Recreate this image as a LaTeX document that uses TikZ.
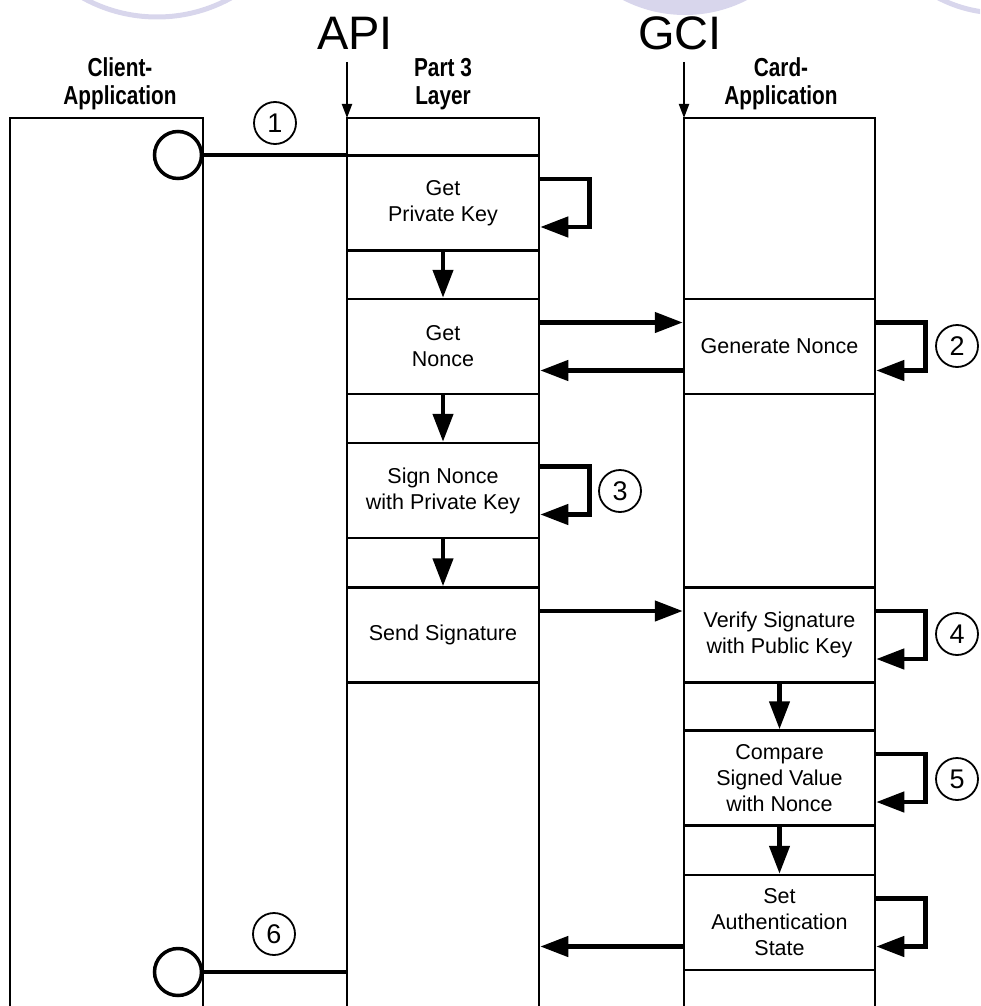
\documentclass[tikz,border=0pt]{standalone}
\usepackage{fontspec}
\setmainfont{Liberation Sans}
\newfontfamily\headfont[FakeStretch=0.8]{Liberation Sans}
\usetikzlibrary{arrows.meta,positioning}

\definecolor{wmark}{RGB}{216,214,236}

\newcommand{\loopback}[1]{%
    \draw[conn] ([yshift=24pt]#1.east) -- ++(49pt,0) |- ([yshift=-24pt]#1.east);}

\begin{document}
\begin{tikzpicture}[x=1pt,y=-1pt,
    col/.style={line width=2.5pt},
    blk/.style={draw,line width=2.5pt,minimum width=192pt,minimum height=95pt,
        inner sep=0pt,align=center,font=\fontsize{21.5}{26}\selectfont},
    head/.style={align=center,font=\headfont\fontsize{26}{28}\selectfont\bfseries},
    conn/.style={line width=4.5pt,-{Triangle[length=28pt,width=20pt]}},
    plain/.style={line width=4.5pt},
    iface/.style={line width=2pt,-{Triangle[length=14pt,width=10pt]}},
    port/.style={draw,circle,line width=3.5pt,minimum size=47pt,inner sep=0pt,fill=white},
    num/.style={draw,circle,line width=1.8pt,minimum size=42pt,inner sep=0pt,
        font=\fontsize{27}{27}\selectfont},
    big/.style={font=\fontsize{47}{47}\selectfont}]
    \useasboundingbox (0,0) rectangle (980,1006);
    \clip (0,0) rectangle (980,1006);

    % Background marks
    \draw[wmark,line width=5pt] (157,-136) circle (153);
    \fill[wmark] (685,-121) circle (136);
    \draw[wmark,line width=5pt] (1000,-120) circle (133);

    % Columns
    \draw[col] (10,1010) |- (203,118) -- (203,1010);
    \draw[col] (347,1010) |- (539,118) -- (539,1010);
    \draw[col] (684,1010) |- (875,118) -- (875,1010);
    \coordinate (p3top) at (347,118);
    \coordinate (cardtop) at (684,118);

    % Headings
    \node[head] (clienthd) at (120,84) {Client-\\Application};
    \node[head] (layerhd) at (443,84) {Part 3\\Layer};
    \node[head] (cardhd) at (781,84) {Card-\\Application};
    \node[big] (api) at (355,33) {API};
    \node[big] (gci) at (680,33) {GCI};
    \draw[iface] (p3top) ++(0,-56) -- (p3top);
    \draw[iface] (cardtop) ++(0,-56) -- (cardtop);

    % Part 3 layer steps
    \node[blk] (gpk) at (443,203) {Get\\Private Key};
    \node[blk] (gn) at (443,346.5) {Get\\Nonce};
    \node[blk] (sn) at (443,490.5) {Sign Nonce\\with Private Key};
    \node[blk] (ss) at (443,635) {Send Signature};

    % Card application steps
    \node[blk,minimum width=191pt] (gen) at (779.5,346.5) {Generate Nonce};
    \node[blk,minimum width=191pt] (vs) at (779.5,635) {Verify Signature\\with Public Key};
    \node[blk,minimum width=191pt] (cmp) at (779.5,778) {Compare\\Signed Value\\with Nonce};
    \node[blk,minimum width=191pt] (sas) at (779.5,922.5) {Set\\Authentication\\State};

    % Client ports
    \node[port] (cp1) at (178,155) {};
    \node[port] (cp6) at (178,972) {};
    \draw[plain] (cp1.east) -- (cp1.east -| gpk.west);
    \draw[plain] (cp6.east) -- (cp6.east -| ss.west);

    % Flow
    \draw[conn] (gpk.south) -- (gn.north);
    \draw[conn] (gn.south) -- (sn.north);
    \draw[conn] (sn.south) -- (ss.north);
    \draw[conn] (vs.south) -- (cmp.north);
    \draw[conn] (cmp.south) -- (sas.north);
    \draw[conn] ([yshift=24pt]gn.east) -- ([yshift=24pt]gen.west);
    \draw[conn] ([yshift=-24pt]gen.west) -- ([yshift=-24pt]gn.east);
    \draw[conn] ([yshift=24pt]ss.east) -- ([yshift=24pt]vs.west);
    \coordinate (sasret) at ([yshift=-24pt]sas.west);
    \draw[conn] (sasret) -- (sasret -| ss.east);
    \loopback{gpk}
    \loopback{gen}
    \loopback{sn}
    \loopback{vs}
    \loopback{cmp}
    \loopback{sas}

    % Step numbers
    \node[num] (n1) at (275,123) {1};
    \node[num] (n2) at (957,346) {2};
    \node[num] (n3) at (620,491) {3};
    \node[num] (n4) at (957,634) {4};
    \node[num] (n5) at (957,779) {5};
    \node[num] (n6) at (274,934) {6};
\end{tikzpicture}
\end{document}
